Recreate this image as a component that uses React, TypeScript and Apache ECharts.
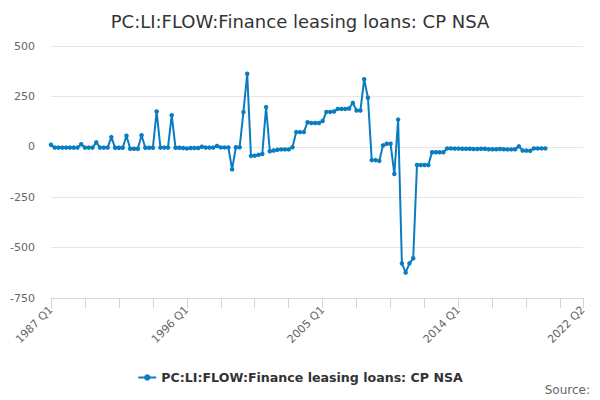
import React, { useEffect, useRef } from "react";
import * as echarts from "echarts";

const TITLE = "PC:LI:FLOW:Finance leasing loans: CP NSA";
const SERIES_NAME = "PC:LI:FLOW:Finance leasing loans: CP NSA";

const START_YEAR = 1987;
const END_YEAR = 2022;
const END_QUARTER = 2;

const categories: string[] = [];
for (let y = START_YEAR; y <= END_YEAR; y++) {
  for (let q = 1; q <= 4; q++) {
    if (y === END_YEAR && q > END_QUARTER) break;
    categories.push(`${y} Q${q}`);
  }
}

// 1987 Q1 .. 2019 Q4
const values: number[] = [
  // 1987
  10, -4, -4, -4,
  // 1988
  -4, -4, -4, -4,
  // 1989
  13, -4, -4, -4,
  // 1990
  22, -4, -4, -4,
  // 1991
  48, -5, -5, -5,
  // 1992
  55, -10, -10, -10,
  // 1993
  57, -5, -5, -5,
  // 1994
  175, -4, -4, -4,
  // 1995
  157, -5, -5, -6,
  // 1996
  -8, -6, -6, -6,
  // 1997
  0, -4, -4, -4,
  // 1998
  4, -3, -3, -3,
  // 1999
  -112, -2, -2, 172,
  // 2000
  362, -45, -44, -40,
  // 2001
  -36, 197, -22, -18,
  // 2002
  -15, -13, -13, -13,
  // 2003
  -2, 73, 73, 73,
  // 2004
  122, 118, 118, 118,
  // 2005
  128, 173, 173, 175,
  // 2006
  188, 188, 188, 190,
  // 2007
  218, 180, 180, 335,
  // 2008
  243, -66, -66, -70,
  // 2009
  7, 15, 15, -135,
  // 2010
  135, -578, -624, -578,
  // 2011
  -553, -90, -90, -90,
  // 2012
  -90, -27, -27, -27,
  // 2013
  -27, -8, -8, -9,
  // 2014
  -9, -10, -10, -10,
  // 2015
  -11, -11, -10, -10,
  // 2016
  -12, -12, -12, -11,
  // 2017
  -12, -13, -13, -12,
  // 2018
  2, -18, -19, -20,
  // 2019
  -8, -8, -8, -8,
];

const seriesData: (number | null)[] = categories.map((_, i) =>
  i < values.length ? values[i] : null
);

const Y_MIN = -750;
const Y_MAX = 500;
const Y_STEP = 250;

const FONT = "DejaVu Sans, Verdana, sans-serif";

export default function App() {
  const ref = useRef<HTMLDivElement>(null);
  useEffect(() => {
    if (!ref.current) return;
    const chart = echarts.init(ref.current, undefined, { renderer: "svg" });
    chart.setOption({
      animation: false,
      backgroundColor: "#ffffff",
      textStyle: { fontFamily: FONT },
      title: {
        text: TITLE,
        left: "center",
        top: 7,
        textStyle: {
          fontFamily: FONT,
          fontSize: 18,
          fontWeight: "normal",
          color: "#333333",
        },
      },
      grid: { left: 51, right: 17, top: 46, bottom: 102, containLabel: false },
      xAxis: {
        type: "category",
        data: categories,
        boundaryGap: false,
        axisLine: { onZero: false, lineStyle: { color: "#ccd6eb", width: 1 } },
        axisTick: { interval: 8, length: 10, lineStyle: { color: "#ccd6eb" } },
        axisLabel: {
          interval: 35,
          showMaxLabel: true,
          rotate: 45,
          margin: 10,
          color: "#666666",
          fontSize: 11,
          fontFamily: FONT,
        },
        splitLine: { show: false },
      },
      yAxis: {
        type: "value",
        min: Y_MIN,
        max: Y_MAX,
        interval: Y_STEP,
        axisLine: { show: false },
        axisTick: { show: false },
        axisLabel: { color: "#666666", fontSize: 11, margin: 16, fontFamily: FONT },
        splitLine: { lineStyle: { color: "#e6e6e6", width: 1 } },
      },
      legend: {
        top: 366,
        left: "center",
        itemWidth: 18,
        itemHeight: 8,
        itemGap: 10,
        textStyle: { fontFamily: FONT, fontSize: 12.6, fontWeight: "bold", color: "#333333" },
        data: [SERIES_NAME],
      },
      graphic: [
        {
          type: "text",
          right: 10,
          top: 384,
          style: { text: "Source:", fill: "#666666", font: `12px ${FONT}` },
        },
      ],
      series: [
        {
          name: SERIES_NAME,
          type: "line",
          data: seriesData,
          symbol: "circle",
          symbolSize: 4.5,
          showAllSymbol: true,
          connectNulls: false,
          itemStyle: { color: "#0a7dc2" },
          lineStyle: { color: "#0a7dc2", width: 2 },
        },
      ],
    });
    return () => chart.dispose();
  }, []);
  return (
    <div
      ref={ref}
      style={{ position: "fixed", left: 0, top: 0, width: 600, height: 400 }}
    />
  );
}
